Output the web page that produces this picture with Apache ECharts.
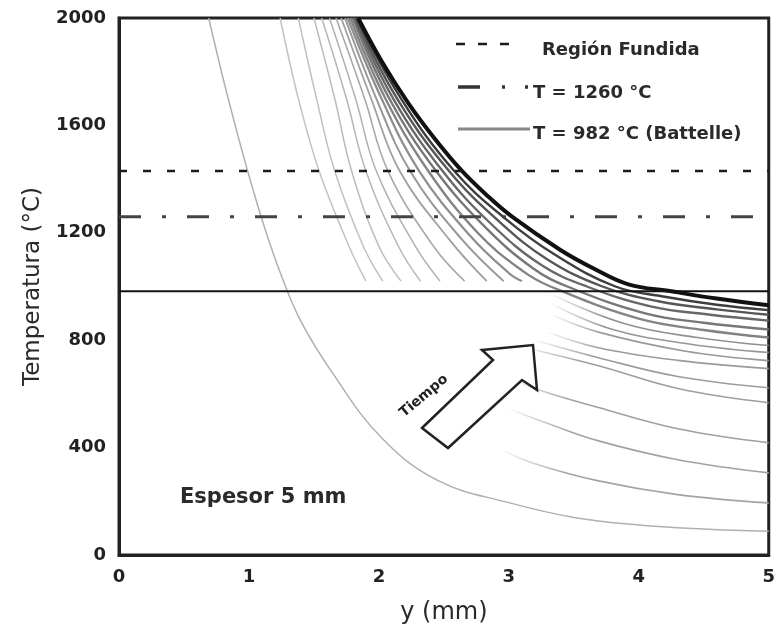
<!DOCTYPE html>
<html>
<head>
<meta charset="utf-8">
<script src="https://cdn.jsdelivr.net/npm/echarts@6.0.0/dist/echarts.min.js"></script>
<style>
  html, body { margin: 0; padding: 0; background: #fff; }
  #chart { width: 778px; height: 631px; }
</style>
</head>
<body>
<div id="chart"></div>
<script>
// ejes
var xTicks = [0, 1, 2, 3, 4, 5];
var yTicks = [0, 400, 800, 1200, 1600, 2000];

// lineas de referencia (°C)
var tFundida = 1430;
var t1260 = 1260;
var tBattelle = 982;

// perfiles de temperatura [y (mm), T (°C)], del primero al ultimo en el tiempo.
// Solo los tramos que se ven en la figura (arriba / abajo de la zona en blanco).
var perfil01 = [[0.69, 2000], [0.84, 1700], [0.99, 1430], [1.12, 1220], [1.25, 1040], [1.4, 870], [1.64, 680], [2.02, 437], [2.46, 276], [3.0, 195], [3.5, 140], [4.0, 112], [4.5, 97], [5.0, 88]];
var perfil02a = [[1.24, 2000], [1.38, 1700], [1.54, 1430], [1.77, 1150], [1.90, 1020]];
var perfil02b = [[2.95, 390], [3.2, 340], [3.69, 276], [4.3, 225], [5.0, 194]];
var perfil03a = [[1.38, 2000], [1.52, 1700], [1.66, 1430], [1.88, 1150], [2.03, 1020]];
var perfil03b = [[3.0, 545], [3.3, 490], [3.69, 425], [4.3, 355], [5.0, 306]];
var perfil04a = [[1.50, 2000], [1.66, 1700], [1.79, 1430], [2.0, 1150], [2.17, 1020]];
var perfil04b = [[3.0, 665], [3.2, 620], [3.69, 549], [4.3, 470], [5.0, 418]];
var perfil05a = [[1.56, 2000], [1.75, 1700], [1.90, 1430], [2.15, 1150], [2.32, 1020]];
var perfil05b = [[3.1, 775], [3.69, 705], [4.3, 620], [5.0, 567]];
var perfil06a = [[1.62, 2000], [1.82, 1700], [1.98, 1430], [2.28, 1150], [2.47, 1020]];
var perfil06b = [[3.2, 800], [3.69, 735], [4.3, 665], [5.0, 623]];
var perfil07a = [[1.67, 2000], [1.89, 1700], [2.07, 1430], [2.42, 1150], [2.66, 1020]];
var perfil07b = [[3.3, 830], [3.69, 772], [4.3, 725], [5.0, 694]];
var perfil08a = [[1.71, 2000], [1.94, 1700], [2.16, 1430], [2.55, 1170], [2.83, 1020]];
var perfil08b = [[3.33, 895], [3.69, 830], [4.35, 760], [5.0, 724]];
var perfil09a = [[1.74, 2000], [1.98, 1700], [2.24, 1430], [2.63, 1180], [2.96, 1020]];
var perfil09b = [[3.33, 935], [3.8, 840], [4.4, 785], [5.0, 754]];
var perfil10a = [[1.76, 2000], [2.02, 1700], [2.31, 1430], [2.7, 1190], [3.0, 1050], [3.1, 1020]];
var perfil10b = [[3.33, 970], [3.9, 860], [4.45, 810], [5.0, 780]];
var perfil11 = [[1.78, 2000], [2.05, 1700], [2.38, 1430], [2.76, 1200], [3.1, 1060], [3.32, 1000], [4.0, 880], [4.5, 838], [5.0, 810]];
var perfil12 = [[1.80, 2000], [2.08, 1700], [2.44, 1430], [2.82, 1220], [3.18, 1070], [3.45, 1000], [4.05, 900], [4.5, 865], [5.0, 840]];
var perfil13 = [[1.81, 2000], [2.11, 1700], [2.49, 1430], [2.87, 1230], [3.25, 1080], [3.6, 1000], [4.1, 925], [4.55, 895], [5.0, 873]];
var perfil14 = [[1.82, 2000], [2.14, 1700], [2.54, 1430], [2.93, 1240], [3.3, 1100], [3.72, 1000], [4.15, 945], [4.6, 915], [5.0, 895]];
var perfil15 = [[1.83, 2000], [2.17, 1700], [2.58, 1430], [2.98, 1250], [3.35, 1120], [3.82, 1000], [4.2, 962], [4.6, 932], [5.0, 912]];
var perfilMax = [[1.84, 2000], [2.02, 1840], [2.23, 1680], [2.43, 1550], [2.63, 1435], [2.83, 1340], [3.03, 1258], [3.4, 1135], [3.66, 1065], [3.92, 1008], [4.25, 982], [4.6, 955], [5.0, 930]];

// tramos superiores y curvas completas
var tramosArriba = [perfil01, perfil02a, perfil03a, perfil04a, perfil05a, perfil06a, perfil07a, perfil08a,
                    perfil09a, perfil10a, perfil11, perfil12, perfil13, perfil14, perfil15, perfilMax];
var grisesArriba = ['#b0b0b0', '#c2c2c2', '#c0c0c0', '#bcbcbc', '#b6b6b6', '#b0b0b0', '#a8a8a8', '#a0a0a0',
                    '#989898', '#8e8e8e', '#848484', '#777777', '#686868', '#565656', '#3e3e3e', '#111111'];
var anchosArriba = [1.5, 1.5, 1.5, 1.5, 1.5, 1.5, 1.6, 1.8, 2, 2.2, 2.4, 2.4, 2.4, 2.4, 2.4, 4];
// tramos inferiores (aparecen desde la zona en blanco)
var tramosAbajo = [perfil02b, perfil03b, perfil04b, perfil05b, perfil06b, perfil07b, perfil08b, perfil09b, perfil10b];
var grisesAbajo = ['#a4a4a4', '#a2a2a2', '#a0a0a0', '#9e9e9e', '#9c9c9c', '#9a9a9a', '#989898', '#969696', '#909090'];

var fuente = '"DejaVu Sans", sans-serif';

var chart = echarts.init(document.getElementById('chart'));

var series = [];
tramosArriba.forEach(function (p, i) {
    series.push({
        type: 'line', data: p, smooth: 0.4, showSymbol: false, silent: true, z: 2,
        lineStyle: { color: grisesArriba[i], width: anchosArriba[i] }
    });
});
tramosAbajo.forEach(function (p, i) {
    series.push({
        type: 'line', data: p, smooth: 0.4, showSymbol: false, silent: true, z: 1,
        lineStyle: {
            width: 1.6,
            color: {
                type: 'linear', x: 0, y: 0, x2: 1, y2: 0,
                colorStops: [
                    { offset: 0, color: 'rgba(160,160,160,0)' },
                    { offset: 0.25, color: grisesAbajo[i] },
                    { offset: 1, color: grisesAbajo[i] }
                ]
            }
        }
    });
});

// horizontales
series.push({
    type: 'line', data: [[xTicks[0], tFundida], [xTicks[5], tFundida]],
    showSymbol: false, silent: true, z: 5,
    lineStyle: { color: '#1a1a1a', width: 2.5, type: [8, 16] }
});
series.push({
    type: 'line', data: [[xTicks[0], t1260], [xTicks[5], t1260]],
    showSymbol: false, silent: true, z: 5,
    lineStyle: { color: '#444', width: 3, type: [22, 21, 4, 21] }
});
series.push({
    type: 'line', data: [[xTicks[0], tBattelle], [xTicks[5], tBattelle]],
    showSymbol: false, silent: true, z: 5,
    lineStyle: { color: '#111', width: 2 }
});

var option = {
    animation: false,
    backgroundColor: '#fff',
    grid: {
        left: 119, right: 8, top: 18, bottom: 76,
        show: true, borderColor: '#222', borderWidth: 3
    },
    xAxis: {
        type: 'value',
        min: xTicks[0], max: xTicks[xTicks.length - 1], interval: 1,
        name: 'y (mm)',
        nameLocation: 'middle',
        nameGap: 46,
        nameTextStyle: { fontFamily: fuente, fontSize: 24, color: '#2a2a2a' },
        axisLine: { show: true, lineStyle: { color: '#222', width: 3 } },
        axisTick: { show: false },
        splitLine: { show: false },
        axisLabel: { margin: 13, fontFamily: fuente, fontWeight: 'bold', fontSize: 18, color: '#222' }
    },
    yAxis: {
        type: 'value',
        min: yTicks[0], max: yTicks[yTicks.length - 1], interval: 400,
        name: 'Temperatura (°C)',
        nameLocation: 'middle',
        nameRotate: 90,
        nameGap: 72,
        nameTextStyle: { fontFamily: fuente, fontSize: 23, color: '#2a2a2a' },
        axisLine: { show: true, lineStyle: { color: '#222', width: 3 } },
        axisTick: { show: false },
        splitLine: { show: false },
        axisLabel: {
            margin: 13, fontFamily: fuente, fontWeight: 'bold', fontSize: 18, color: '#222',
            formatter: function (v) { return String(v); }
        }
    },
    graphic: [
        // leyenda
        { type: 'line', shape: { x1: 456, y1: 44, x2: 518, y2: 44 }, z: 10,
          style: { stroke: '#1a1a1a', lineWidth: 2.5, lineDash: [9, 13] } },
        { type: 'text', z: 10, style: { x: 542, y: 50, text: 'Región Fundida', font: 'bold 18px ' + fuente, fill: '#2a2a2a', verticalAlign: 'middle' } },
        { type: 'line', shape: { x1: 458, y1: 87, x2: 529, y2: 87 }, z: 10,
          style: { stroke: '#333', lineWidth: 3.5, lineDash: [22, 22, 3, 20, 3, 100] } },
        { type: 'text', z: 10, style: { x: 533, y: 93, text: 'T = 1260 °C', font: 'bold 18px ' + fuente, fill: '#2a2a2a', verticalAlign: 'middle' } },
        { type: 'line', shape: { x1: 458, y1: 129, x2: 530, y2: 129 }, z: 10,
          style: { stroke: '#888', lineWidth: 3 } },
        { type: 'text', z: 10, style: { x: 533, y: 134, text: 'T = 982 °C (Battelle)', font: 'bold 18px ' + fuente, fill: '#2a2a2a', verticalAlign: 'middle' } },
        // flecha del tiempo
        { type: 'polygon', z: 10,
          shape: { points: [[422, 428], [448, 448], [522, 380], [537, 390], [533, 345], [482, 350], [493, 360]] },
          style: { fill: '#fff', stroke: '#222', lineWidth: 2.5 } },
        { type: 'text', z: 10, x: 424, y: 396, rotation: 40 * Math.PI / 180,
          style: { x: 0, y: 0, text: 'Tiempo', font: 'bold 14px ' + fuente, fill: '#222', align: 'center', verticalAlign: 'middle' } },
        { type: 'text', z: 10, style: { x: 180, y: 498, text: 'Espesor 5 mm', font: 'bold 21px ' + fuente, fill: '#2a2a2a', verticalAlign: 'middle' } }
    ],
    series: series
};

chart.setOption(option);
</script>
</body>
</html>
